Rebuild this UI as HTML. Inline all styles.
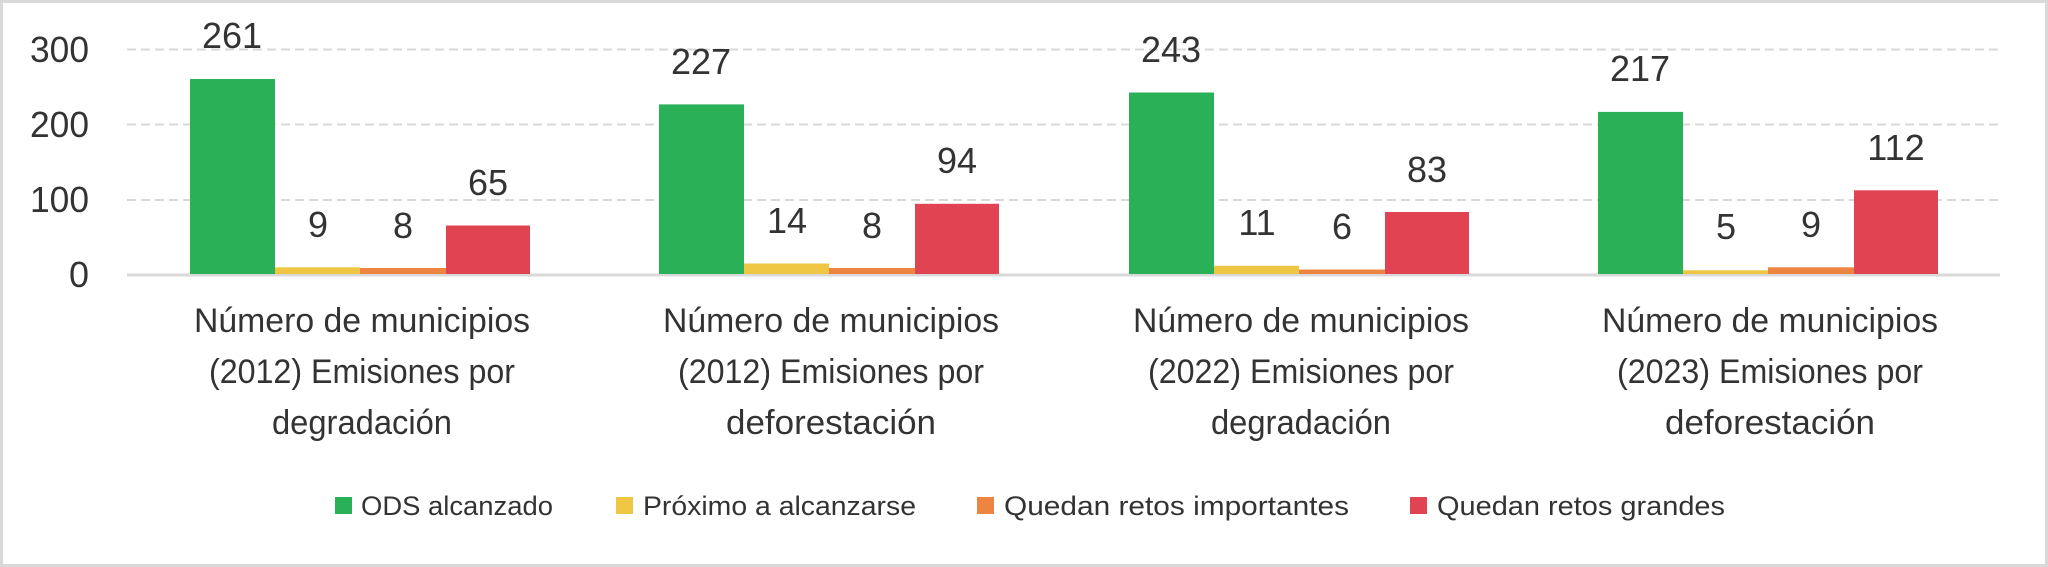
<!DOCTYPE html>
<html><head><meta charset="utf-8"><style>
html,body{margin:0;padding:0;background:#fff;}
svg{display:block;}
text{font-family:"Liberation Sans",sans-serif;fill:#333;}
</style></head><body>
<svg width="2048" height="567" viewBox="0 0 2048 567" xmlns="http://www.w3.org/2000/svg">
<rect x="1.5" y="1.5" width="2045" height="564" fill="#fff" stroke="#d9d9d9" stroke-width="3"/>
<g stroke="#d9d9d9" stroke-width="2" stroke-dasharray="9,5">
<line x1="127" y1="49.5" x2="2000" y2="49.5"/>
<line x1="127" y1="124.5" x2="2000" y2="124.5"/>
<line x1="127" y1="200" x2="2000" y2="200"/>
</g>
<g font-size="36" text-anchor="end">
<text x="89" y="62" textLength="59" lengthAdjust="spacingAndGlyphs">300</text>
<text x="89" y="137" textLength="59" lengthAdjust="spacingAndGlyphs">200</text>
<text x="89" y="212" textLength="59" lengthAdjust="spacingAndGlyphs">100</text>
<text x="89" y="287" textLength="20" lengthAdjust="spacingAndGlyphs">0</text>
</g>
<line x1="127" y1="275" x2="2000" y2="275" stroke="#d9d9d9" stroke-width="3"/>
<g font-size="34" text-anchor="middle">
<text x="362" y="332" textLength="336" lengthAdjust="spacingAndGlyphs">Número de municipios</text>
<text x="362" y="383" textLength="306" lengthAdjust="spacingAndGlyphs">(2012) Emisiones por</text>
<text x="362" y="434" textLength="180" lengthAdjust="spacingAndGlyphs">degradación</text>
<text x="831" y="332" textLength="336" lengthAdjust="spacingAndGlyphs">Número de municipios</text>
<text x="831" y="383" textLength="306" lengthAdjust="spacingAndGlyphs">(2012) Emisiones por</text>
<text x="831" y="434" textLength="210" lengthAdjust="spacingAndGlyphs">deforestación</text>
<text x="1301" y="332" textLength="336" lengthAdjust="spacingAndGlyphs">Número de municipios</text>
<text x="1301" y="383" textLength="306" lengthAdjust="spacingAndGlyphs">(2022) Emisiones por</text>
<text x="1301" y="434" textLength="180" lengthAdjust="spacingAndGlyphs">degradación</text>
<text x="1770" y="332" textLength="336" lengthAdjust="spacingAndGlyphs">Número de municipios</text>
<text x="1770" y="383" textLength="306" lengthAdjust="spacingAndGlyphs">(2023) Emisiones por</text>
<text x="1770" y="434" textLength="210" lengthAdjust="spacingAndGlyphs">deforestación</text>
</g>
<g font-size="27">
<rect x="335" y="497" width="17" height="17" fill="#2ab157"/>
<text x="361" y="515" textLength="192" lengthAdjust="spacingAndGlyphs">ODS alcanzado</text>
<rect x="616" y="497" width="17" height="17" fill="#eec643"/>
<text x="643" y="515" textLength="273" lengthAdjust="spacingAndGlyphs">Próximo a alcanzarse</text>
<rect x="977" y="497" width="17" height="17" fill="#ee8441"/>
<text x="1004" y="515" textLength="345" lengthAdjust="spacingAndGlyphs">Quedan retos importantes</text>
<rect x="1410" y="497" width="17" height="17" fill="#e04351"/>
<text x="1437" y="515" textLength="288" lengthAdjust="spacingAndGlyphs">Quedan retos grandes</text>
</g>
<g font-size="36" text-anchor="middle">
<rect x="190" y="79" width="85" height="195" fill="#2ab157"/>
<rect x="275" y="267.3" width="85" height="6.7" fill="#eec643"/>
<rect x="360" y="268" width="86" height="6" fill="#ee8441"/>
<rect x="446" y="225.5" width="84" height="48.5" fill="#e04351"/>
<text x="232" y="48">261</text><text x="318" y="237">9</text><text x="403" y="238">8</text><text x="488" y="195">65</text>
<rect x="659" y="104.4" width="85" height="169.6" fill="#2ab157"/>
<rect x="744" y="263.5" width="85" height="10.5" fill="#eec643"/>
<rect x="829" y="268" width="86" height="6" fill="#ee8441"/>
<rect x="915" y="203.8" width="84" height="70.2" fill="#e04351"/>
<text x="701" y="74">227</text><text x="787" y="233">14</text><text x="872" y="238">8</text><text x="957" y="173">94</text>
<rect x="1129" y="92.5" width="85" height="181.5" fill="#2ab157"/>
<rect x="1214" y="265.8" width="85" height="8.2" fill="#eec643"/>
<rect x="1299" y="269.5" width="86" height="4.5" fill="#ee8441"/>
<rect x="1385" y="212" width="84" height="62" fill="#e04351"/>
<text x="1171" y="62">243</text><text x="1257" y="235">11</text><text x="1342" y="239">6</text><text x="1427" y="182">83</text>
<rect x="1598" y="111.9" width="85" height="162.1" fill="#2ab157"/>
<rect x="1683" y="270.3" width="85" height="3.7" fill="#eec643"/>
<rect x="1768" y="267.3" width="86" height="6.7" fill="#ee8441"/>
<rect x="1854" y="190.3" width="84" height="83.7" fill="#e04351"/>
<text x="1640" y="81">217</text><text x="1726" y="239">5</text><text x="1811" y="237">9</text><text x="1896" y="160">112</text>
</g>
</svg>
</body></html>
